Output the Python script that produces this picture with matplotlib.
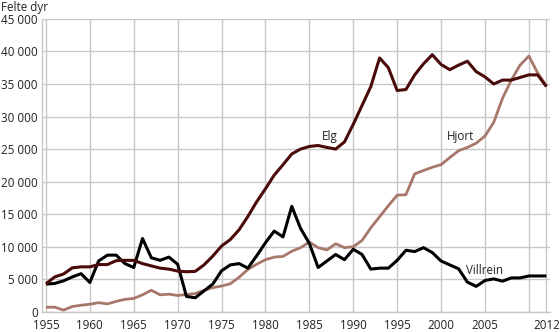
import matplotlib.pyplot as plt
from matplotlib.ticker import FuncFormatter

years = list(range(1955, 2013))

elg = [4300, 5350, 5800, 6750, 6900, 6900, 7250, 7250, 7850, 7900,
       7900, 7400, 7050, 6700, 6550, 6250, 6150, 6200, 7200, 8550,
       10100, 11100, 12600, 14650, 16900, 18900, 21000, 22600, 24250, 25000,
       25400, 25550, 25250, 25000, 26100, 28800, 31700, 34600, 39000, 37500,
       34000, 34150, 36400, 38100, 39500, 38000, 37200, 37900, 38500, 36900,
       36100, 35000, 35600, 35600, 36000, 36400, 36400, 34600]

hjort = [700, 700, 250, 800, 1000, 1150, 1400, 1200, 1600, 1900,
         2050, 2600, 3300, 2600, 2700, 2500, 2650, 2800, 3300, 3700,
         3950, 4300, 5300, 6500, 7300, 8000, 8400, 8500, 9300, 9850,
         10700, 9850, 9500, 10450, 9850, 10000, 10950, 12900, 14600, 16300,
         17900, 18000, 21200, 21700, 22200, 22600, 23700, 24750, 25250, 25900,
         27000, 29100, 32800, 35600, 37900, 39300, 36700, 34700]

villrein = [4250, 4350, 4750, 5350, 5850, 4500, 7800, 8700, 8700, 7400,
            6800, 11250, 8300, 7900, 8400, 7300, 2350, 2150, 3200, 4250,
            6300, 7200, 7400, 6700, 8600, 10600, 12400, 11500, 16200, 12800,
            10500, 6800, 7800, 8800, 8000, 9600, 8800, 6550, 6700, 6700,
            7900, 9450, 9250, 9850, 9100, 7800, 7200, 6600, 4550, 3900,
            4800, 5050, 4700, 5200, 5200, 5500, 5500, 5500]

xticks = [1955, 1960, 1965, 1970, 1975, 1980, 1985, 1990, 1995, 2000, 2005, 2010, 2012]
xticklabels = ['1955', '1960', '1965', '1970', '1975', '1980', '1985', '1990',
               '1995', '2000', '2005', '', '2012']

plt.rcParams['font.family'] = ['Open Sans', 'DejaVu Sans']
fs = 8.4
txt_col = '#222222'

fig = plt.figure(figsize=(5.6, 3.32), dpi=100)
ax = fig.add_axes([0.075, 0.061, 0.907, 0.882])

grid_col = '#c8c8c8'
ax.plot(years, hjort, color='#a8776c', lw=2.0, solid_capstyle='butt')
ax.plot(years, villrein, color='#000000', lw=2.2, solid_capstyle='butt')
ax.plot(years, elg, color='#4a0a0a', lw=2.2, solid_capstyle='butt')

ax.set_xlim(1954.55, 2012.4)
ax.set_ylim(0, 45000)
ax.set_xticks(xticks)
ax.set_xticklabels(xticklabels)
ax.set_yticks(range(0, 45001, 5000))
ax.yaxis.set_major_formatter(FuncFormatter(lambda v, p: f'{int(v):,}'.replace(',', ' ')))
ax.grid(True, color=grid_col, lw=1.0)
ax.set_axisbelow(True)
for side in ['top', 'right']:
    ax.spines[side].set_visible(False)
for side in ['left', 'bottom']:
    ax.spines[side].set_color(grid_col)
    ax.spines[side].set_linewidth(1.0)
ax.tick_params(length=0, labelsize=fs, colors=txt_col)
ax.tick_params(axis='x', pad=5)
ax.tick_params(axis='y', pad=3)

# series names placed next to their lines
ax.text(1987.3, 26900, 'Elg', fontsize=fs, ha='center', va='center', color=txt_col)
ax.text(2002.2, 26900, 'Hjort', fontsize=fs, ha='center', va='center', color=txt_col)
ax.text(2004.9, 6300, 'Villrein', fontsize=fs, ha='center', va='center', color=txt_col)

fig.text(0.002, 0.997, 'Felte dyr', fontsize=fs, ha='left', va='top', color=txt_col)

fig.savefig('out.png', dpi=100)
